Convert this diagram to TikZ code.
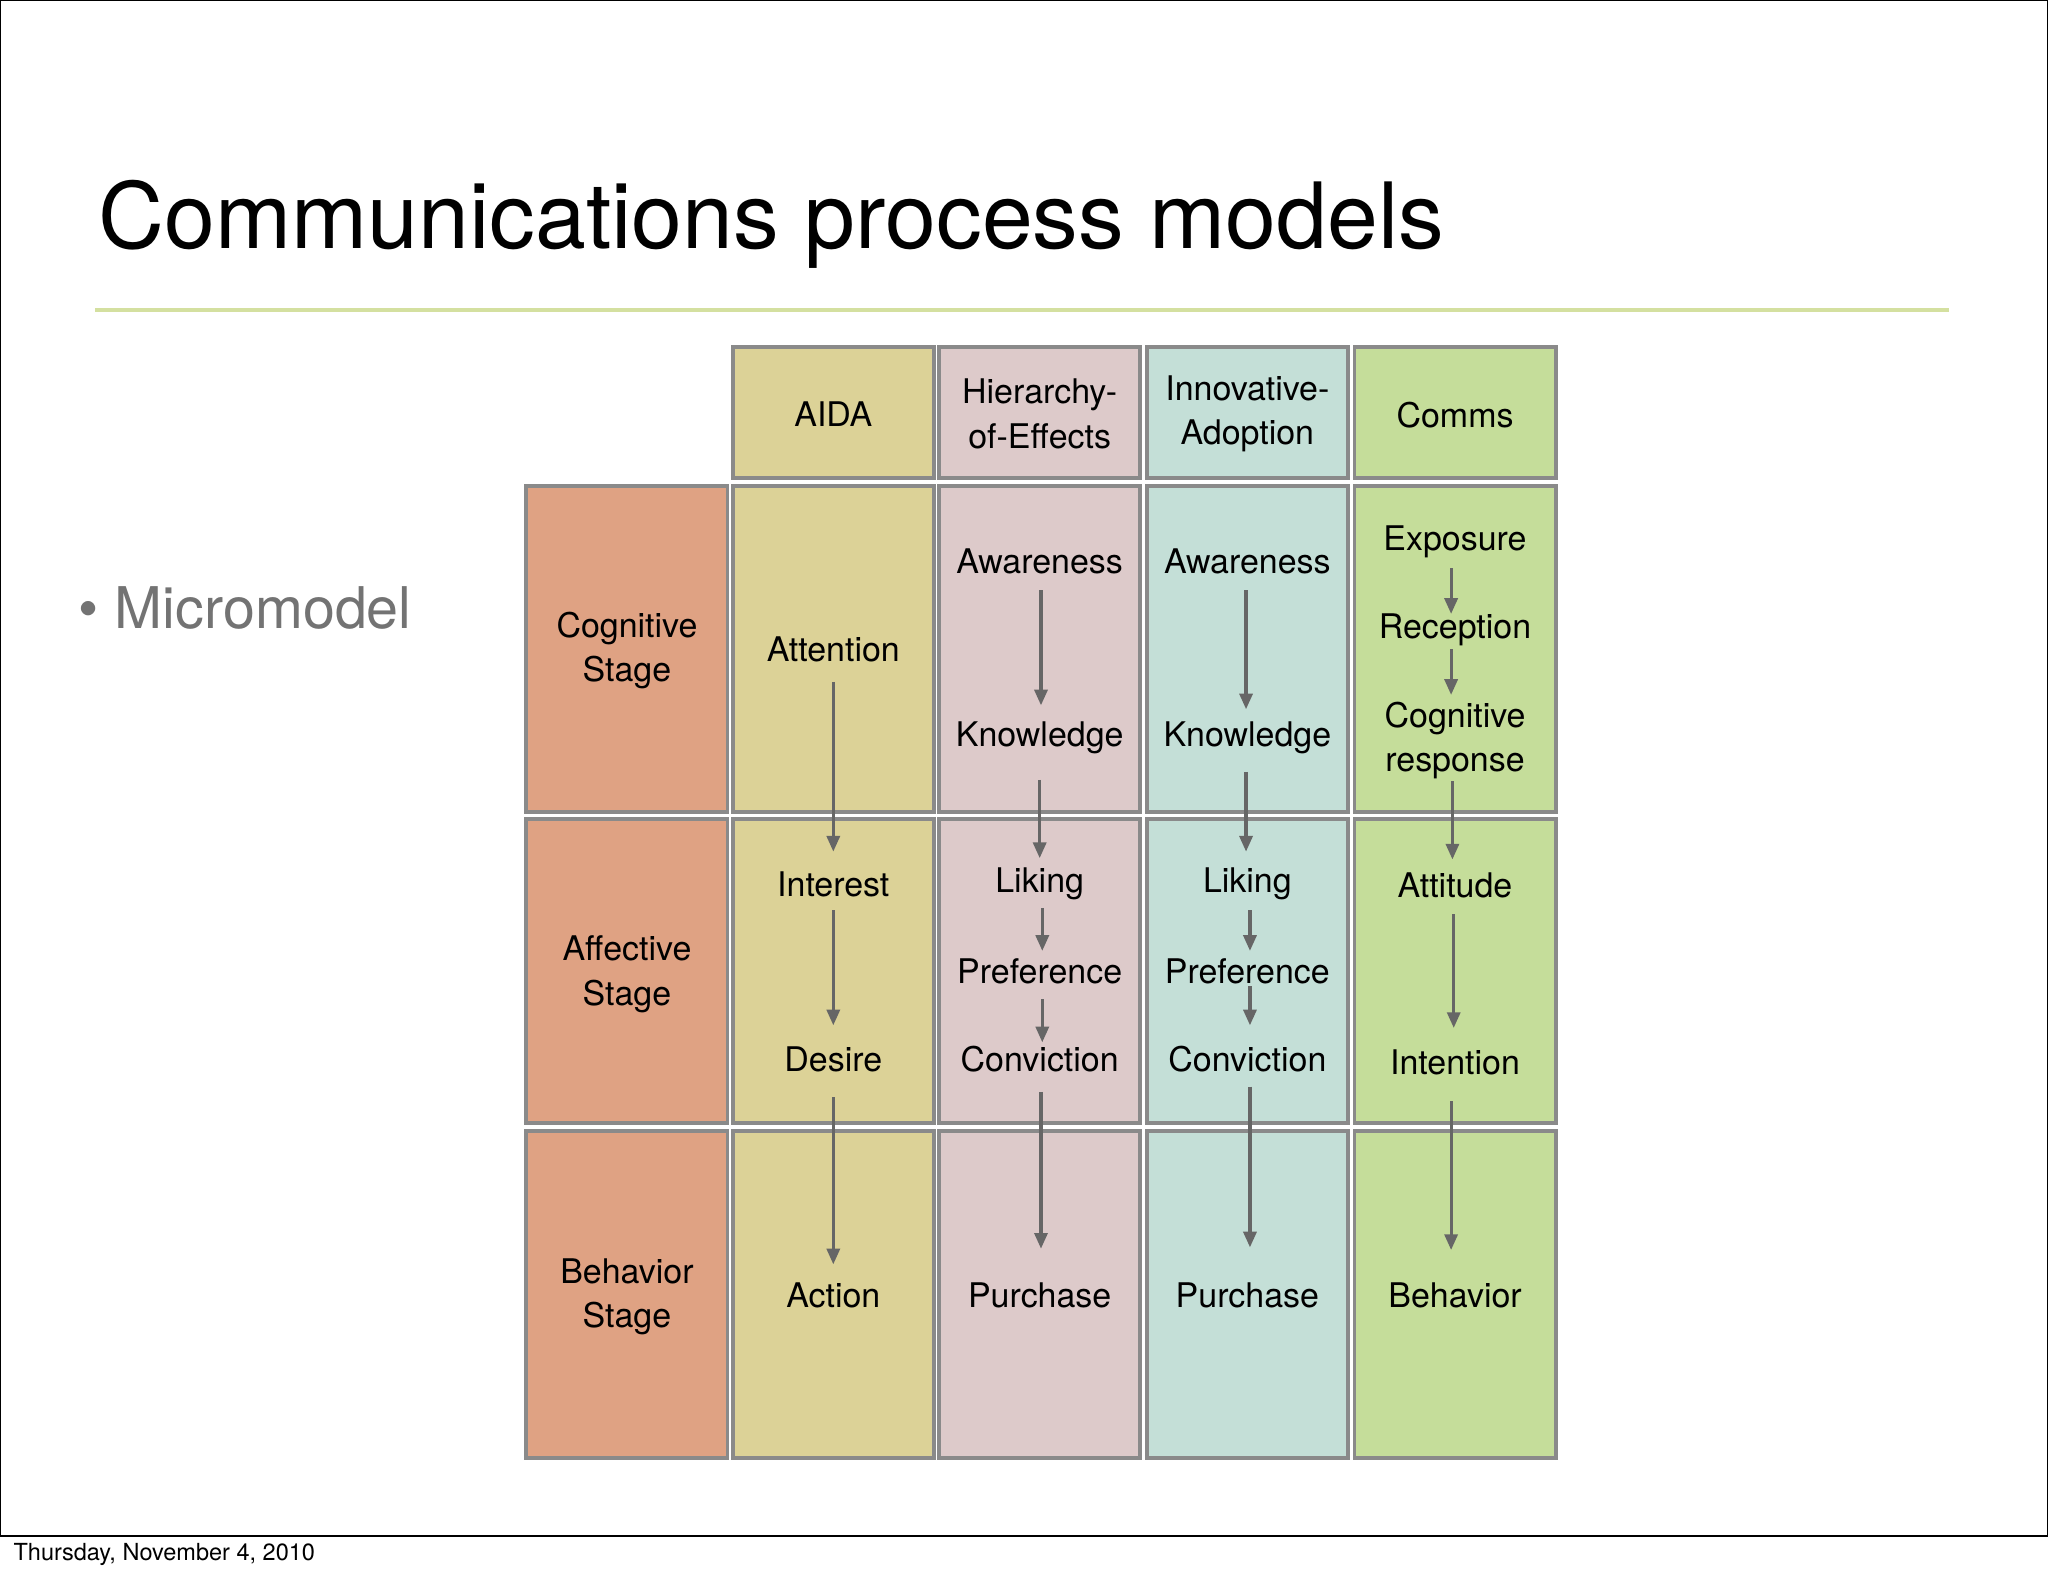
\documentclass[tikz,border=0pt]{standalone}
\usepackage{fontspec}
\setmainfont{TeX Gyre Heros}
\usetikzlibrary{arrows.meta}
\definecolor{stage}{HTML}{DFA283}
\definecolor{aida}{HTML}{DCD297}
\definecolor{hoe}{HTML}{DDCACA}
\definecolor{ia}{HTML}{C4DFD7}
\definecolor{comms}{HTML}{C5DD9A}
\definecolor{bord}{HTML}{8A8A8A}
\definecolor{arr}{HTML}{666666}
\begin{document}
\begin{tikzpicture}[x=0.5pt,y=-0.5pt,
  cell/.style={draw=bord,line width=1.5pt},
  lbl/.style={font=\fontsize{13}{17}\selectfont,align=center,inner sep=0pt},
  ar/.style={draw=arr,line width=1.2pt,-{Triangle[length=6pt,width=5pt]}}]
\useasboundingbox (0,0) rectangle (1568,1206);
\fill[white] (0,0) rectangle (1568,1206);
\draw[line width=0.6pt] (0.5,0.5) -- (1567.5,0.5) -- (1567.5,1176) -- (0.5,1176) -- cycle;
\node[anchor=west,inner sep=0pt,font=\fontsize{9}{11}\selectfont] (foot) at (10,1190) {Thursday, November 4, 2010};
\node[anchor=base west,inner sep=0pt,font=\fontsize{35}{40}\selectfont] (title) at (75,190) {Communications process models};
\draw[color={rgb,255:red,212;green,224;blue,160},line width=1.5pt] (73,237) -- (1492,237);
\node[anchor=base west,inner sep=0pt,text=gray!90!black,font=\fontsize{22}{26}\selectfont] (mm) at (60,481) {\textbullet\ Micromodel};
% cells
\foreach \xa/\xb/\c in {561/715/aida,719/873/hoe,878/1032/ia,1037/1191/comms}{
  \draw[cell,fill=\c] (\xa,266) rectangle (\xb,366);
  \draw[cell,fill=\c] (\xa,372) rectangle (\xb,622);
  \draw[cell,fill=\c] (\xa,627) rectangle (\xb,860);
  \draw[cell,fill=\c] (\xa,866) rectangle (\xb,1116);}
\draw[cell,fill=stage] (403,372) rectangle (557,622);
\draw[cell,fill=stage] (403,627) rectangle (557,860);
\draw[cell,fill=stage] (403,866) rectangle (557,1116);
% headers
\node[lbl] (h1) at (638,317) {AIDA};
\node[lbl] (h2) at (796,317) {Hierarchy-\\of-Effects};
\node[lbl] (h3) at (955,317) {Innovative-\\Adoption};
\node[lbl] (h4) at (1114,318) {Comms};
\node[lbl] (s1) at (480,498) {Cognitive\\Stage};
\node[lbl] (s2) at (480,746) {Affective\\Stage};
\node[lbl] (s3) at (480,993) {Behavior\\Stage};
% AIDA
\node[lbl] (a1) at (638,497) {Attention};
\node[lbl] (a2) at (638,677) {Interest};
\node[lbl] (a3) at (638,811) {Desire};
\node[lbl] (a4) at (638,992) {Action};
% HoE
\node[lbl] (b1) at (796,430) {Awareness};
\node[lbl] (b2) at (796,565) {Knowledge};
\node[lbl] (b3) at (796,677) {Liking};
\node[lbl] (b4) at (796,744) {Preference};
\node[lbl] (b5) at (796,811) {Conviction};
\node[lbl] (b6) at (796,992) {Purchase};
% IA
\node[lbl] (c1) at (955,430) {Awareness};
\node[lbl] (c2) at (955,565) {Knowledge};
\node[lbl] (c3) at (955,677) {Liking};
\node[lbl] (c4) at (955,744) {Preference};
\node[lbl] (c5) at (955,811) {Conviction};
\node[lbl] (c6) at (955,992) {Purchase};
% Comms
\node[lbl] (d1) at (1114,415) {Exposure};
\node[lbl] (d2) at (1114,482) {Reception};
\node[lbl] (d3) at (1114,567) {Cognitive\\response};
\node[lbl] (d4) at (1114,678) {Attitude};
\node[lbl] (d5) at (1114,813) {Intention};
\node[lbl] (d6) at (1114,992) {Behavior};
% arrows
\foreach \n/\x/\ya/\yb in {a/638/522/652,b/638/697/785,c/638/840/968,
  d/797/452/540,e/796/597/657,f/798/695/728,g/798/765/798,h/797/836/956,
  i/954/452/543,j/954/591/652,k/957/697/728,l/957/755/785,m/957/832/955,
  n/1111/435/470,o/1111/497/532,p/1112/598/658,q/1113/700/787,r/1111/843/957}{
  \coordinate (s\n) at (\x,\ya); \coordinate (t\n) at (\x,\yb);
  \draw[ar] (s\n) -- (t\n);}
\end{tikzpicture}
\end{document}
